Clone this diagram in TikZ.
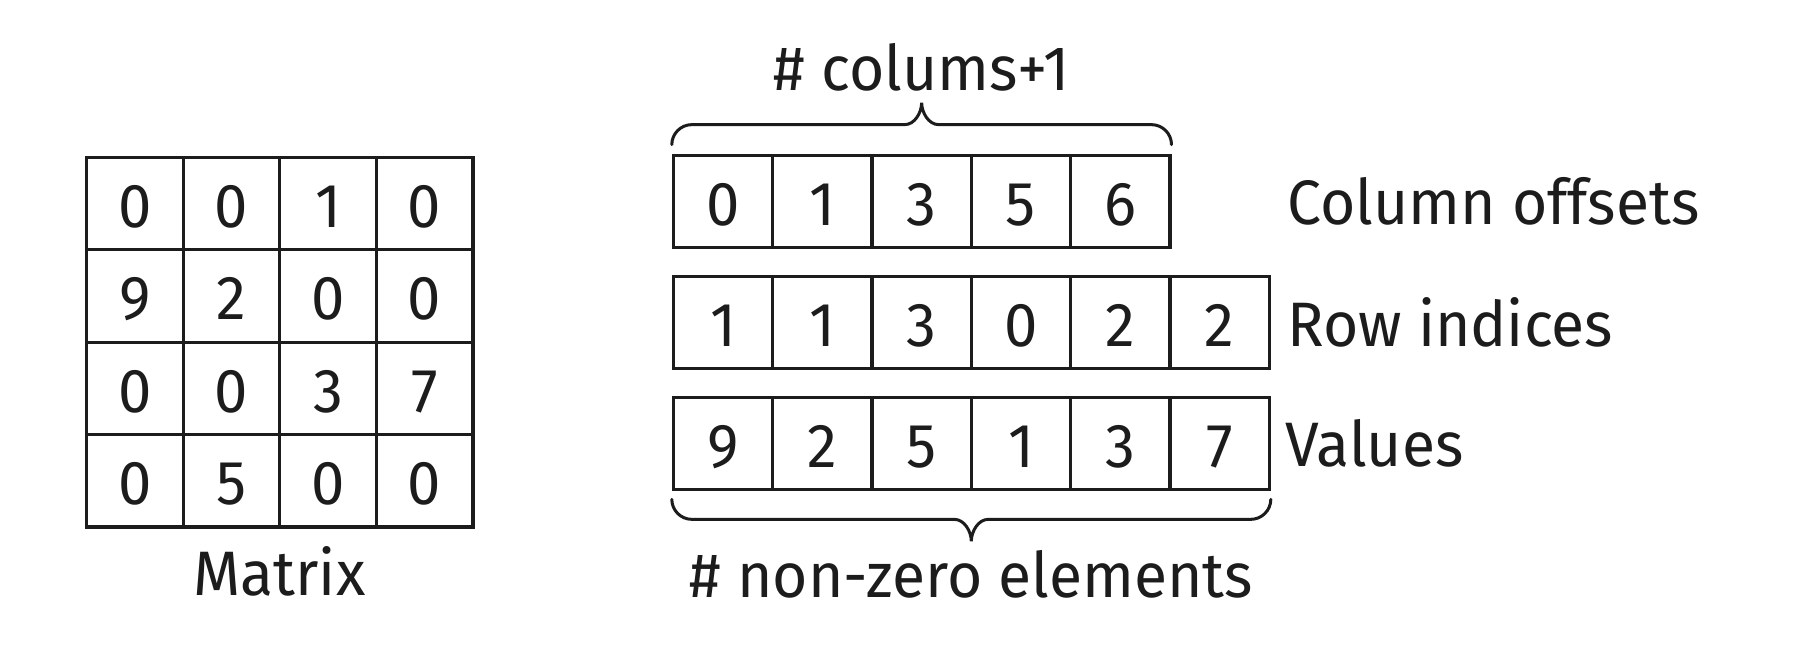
\documentclass[tikz,border=0pt]{standalone}
\usepackage{fontspec}
\setmainfont{Fira Sans}[FakeStretch=0.965]
\usetikzlibrary{calc}
\definecolor{ink}{RGB}{28,28,28}
\begin{document}
\begin{tikzpicture}[x=0.5pt,y=-0.5pt,
  cellbox/.style={draw=ink,line width=1.6pt,inner sep=0pt,text depth=0pt,
    text height=23.9pt,font=\fontsize{31}{34}\selectfont,text=ink},
  mcell/.style={cellbox,minimum width=48.3pt,minimum height=46.2pt},
  acell/.style={cellbox,minimum width=49.65pt,minimum height=46.25pt},
  lbl/.style={inner sep=0pt,font=\fontsize{31.4}{34}\selectfont,text=ink},
  braceline/.style={draw=ink,line width=1.5pt,line cap=round}]
\useasboundingbox (0,0) rectangle (1816,646);
% matrix
\foreach \row [count=\r] in {{0,0,1,0},{9,2,0,0},{0,0,3,7},{0,5,0,0}}{
  \foreach \v [count=\c] in \row {
    \node[mcell] (m-\r-\c) at ({86.5+96.6*(\c-0.5)},{157.5+92.4*(\r-0.5)}) {\v};
  }
}
\node[lbl,anchor=base] (mlabel) at (279.5,595.4) {Matrix};
% arrays
\foreach \v [count=\c] in {0,1,3,5,6}{
  \node[acell] (co\c) at ({673.4+99.3*(\c-0.5)},201.5) {\v};
}
\foreach \v [count=\c] in {1,1,3,0,2,2}{
  \node[acell] (ri\c) at ({673.4+99.3*(\c-0.5)},322.5) {\v};
}
\foreach \v [count=\c] in {9,2,5,1,3,7}{
  \node[acell] (va\c) at ({673.4+99.3*(\c-0.5)},443.5) {\v};
}
\node[lbl,anchor=west] (colab) at (1287,201.5) {Column offsets};
\node[lbl,anchor=west] (rilab) at (1287,322.5) {Row indices};
\node[lbl,anchor=west] (valab) at (1285,443.5) {Values};
% top brace
\coordinate (tl) at ($(co1.north west)+(0,-9)$);
\coordinate (tr) at ($(co5.north east)+(0,-9)$);
\coordinate (tm) at ($(tl)!0.5!(tr)+(0,-42)$);
\draw[braceline] (tl) .. controls +(0,-11) and +(-11,0) .. ($(tl)+(20,-20)$)
  -- ($(tm)+(-17,22)$) .. controls +(10,0) and +(0,10) .. (tm)
  .. controls +(0,10) and +(-10,0) .. ($(tm)+(17,22)$)
  -- ($(tr)+(-20,-20)$) .. controls +(11,0) and +(0,-11) .. (tr);
\node[lbl,anchor=base] (toplab) at ($(tm)+(0,-12.5)$) {\# colums+1};
% bottom brace
\coordinate (bl) at ($(va1.south west)+(0,8)$);
\coordinate (br) at ($(va6.south east)+(0,8)$);
\coordinate (bm) at ($(bl)!0.5!(br)+(0,42)$);
\draw[braceline] (bl) .. controls +(0,11) and +(-11,0) .. ($(bl)+(20,20)$)
  -- ($(bm)+(-17,-22)$) .. controls +(10,0) and +(0,-10) .. (bm)
  .. controls +(0,-10) and +(-10,0) .. ($(bm)+(17,-22)$)
  -- ($(br)+(-20,20)$) .. controls +(11,0) and +(0,11) .. (br);
\node[lbl,anchor=base] (botlab) at ($(bm)+(0,56.4)$) {\# non-zero elements};
\end{tikzpicture}
\end{document}
